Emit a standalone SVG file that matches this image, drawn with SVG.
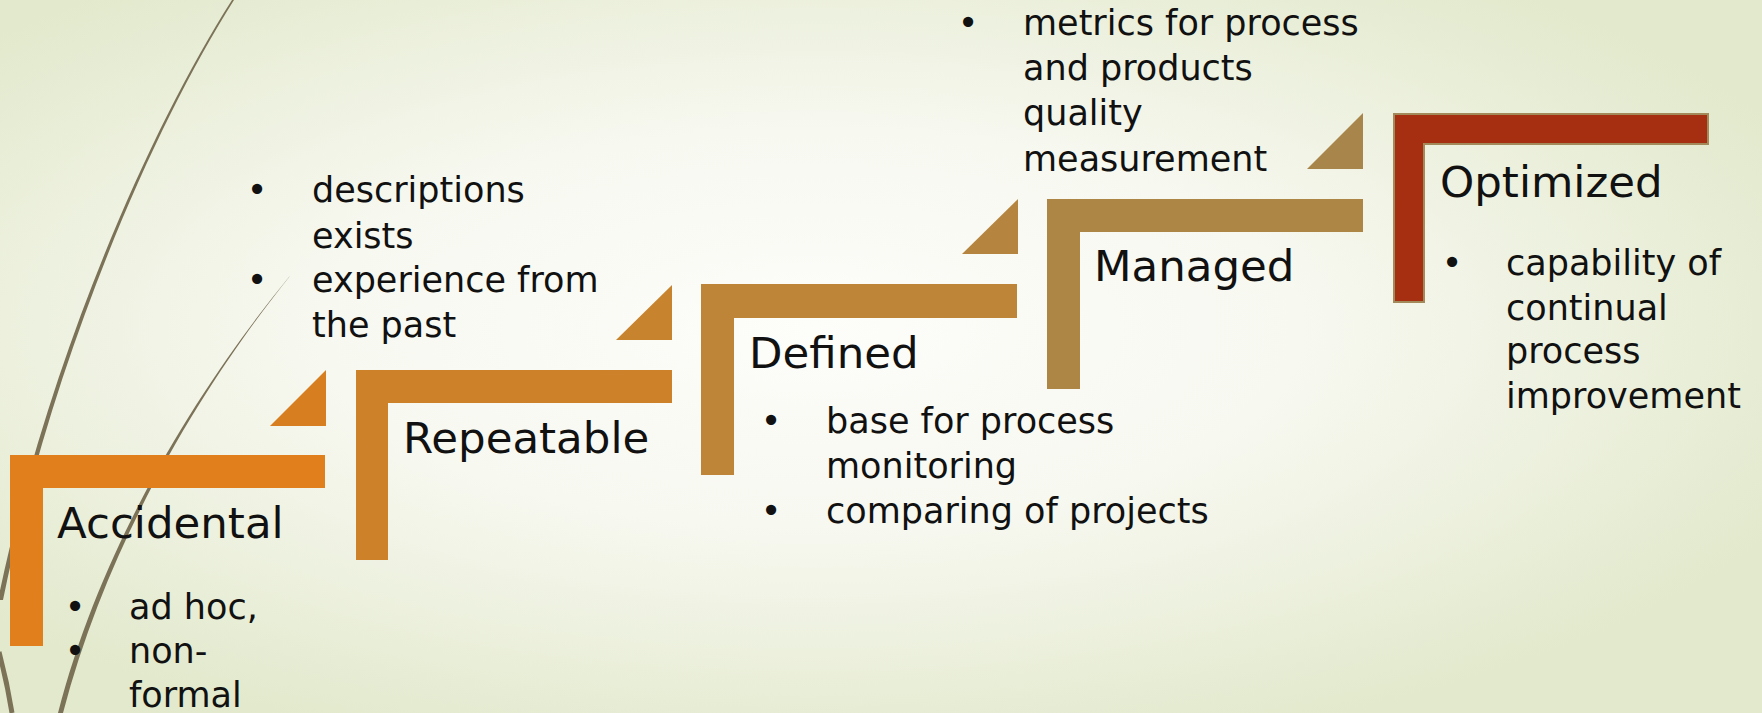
<svg xmlns="http://www.w3.org/2000/svg" width="1762" height="713" viewBox="0 0 1762 713">
<defs>
<radialGradient id="bg" cx="0.46" cy="0.46" r="0.62">
<stop offset="0" stop-color="#fdfdfa"/>
<stop offset="0.45" stop-color="#f7f8f0"/>
<stop offset="1" stop-color="#e2e9cc"/>
</radialGradient>
<style>
.t{font-family:"DejaVu Sans","Liberation Sans",sans-serif;fill:#111;}
.title{font-size:43.5px;}
.body{font-size:35px;}
.bul{font-size:35px;text-anchor:middle;}
.curve{fill:#7c7258;}
</style>
</defs>
<rect width="1762" height="713" fill="url(#bg)"/>
<g id="decor">
<path class="curve" d="M232,0 C149,130 48,360 -2,600 L3,600 C52,361 151,131 234,0 Z"/>
<path class="curve" d="M289,277 C220,361 108,520 58,713 L63,713 C113,521 221,362 290,276 Z"/>
<path d="M-1,652 Q7,682 12,713" fill="none" stroke="#7c7258" stroke-width="5"/>
</g>
<g id="connectors">
<path id="step1" d="M270,426 L326,370 L326,426 Z" fill="#d77f20"/>
<path id="step2" d="M616,340 L672,285 L672,340 Z" fill="#c8832e"/>
<path id="step3" d="M962,254 L1018,199 L1018,254 Z" fill="#b5853f"/>
<path id="step4" d="M1307,169 L1363,113 L1363,169 Z" fill="#a8854b"/>
</g>
<g id="accidental">
<path d="M10,455 H325 V488 H43 V646 H10 Z" fill="#e07f1c"/>
<text class="t title" x="57" y="538">Accidental</text>
<text class="t bul" x="75" y="619">•</text>
<text class="t bul" x="75" y="663">•</text>
<text class="t body" x="129" y="619">ad hoc,</text>
<text class="t body" x="129" y="663">non-</text>
<text class="t body" x="129" y="707">formal</text>
</g>
<g id="repeatable">
<path d="M356,370 H672 V403 H388 V560 H356 Z" fill="#cd8229"/>
<text class="t title" x="403" y="453">Repeatable</text>
<text class="t bul" x="257" y="202">•</text>
<text class="t bul" x="257" y="292">•</text>
<text class="t body" x="312" y="202">descriptions</text>
<text class="t body" x="312" y="248">exists</text>
<text class="t body" x="312" y="292">experience from</text>
<text class="t body" x="312" y="337">the past</text>
</g>
<g id="defined">
<path d="M701,284 H1017 V318 H734 V475 H701 Z" fill="#be8538"/>
<text class="t title" x="749" y="368">Defined</text>
<text class="t bul" x="771" y="433">•</text>
<text class="t bul" x="771" y="523">•</text>
<text class="t body" x="826" y="433">base for process</text>
<text class="t body" x="826" y="478">monitoring</text>
<text class="t body" x="826" y="523">comparing of projects</text>
</g>
<g id="managed">
<path d="M1047,199 H1363 V232 H1080 V389 H1047 Z" fill="#ad8545"/>
<text class="t title" x="1094" y="281">Managed</text>
<text class="t bul" x="968" y="35">•</text>
<text class="t body" x="1023" y="35">metrics for process</text>
<text class="t body" x="1023" y="80">and products</text>
<text class="t body" x="1023" y="125">quality</text>
<text class="t body" x="1023" y="171">measurement</text>
</g>
<g id="optimized">
<path d="M1394,114 H1708 V144 H1424 V302 H1394 Z" fill="#a52f10" stroke="#a38a5a" stroke-width="2"/>
<text class="t title" x="1440" y="197">Optimized</text>
<text class="t bul" x="1452" y="275">•</text>
<text class="t body" x="1506" y="275">capability of</text>
<text class="t body" x="1506" y="320">continual</text>
<text class="t body" x="1506" y="363">process</text>
<text class="t body" x="1506" y="408">improvement</text>
</g>
</svg>
